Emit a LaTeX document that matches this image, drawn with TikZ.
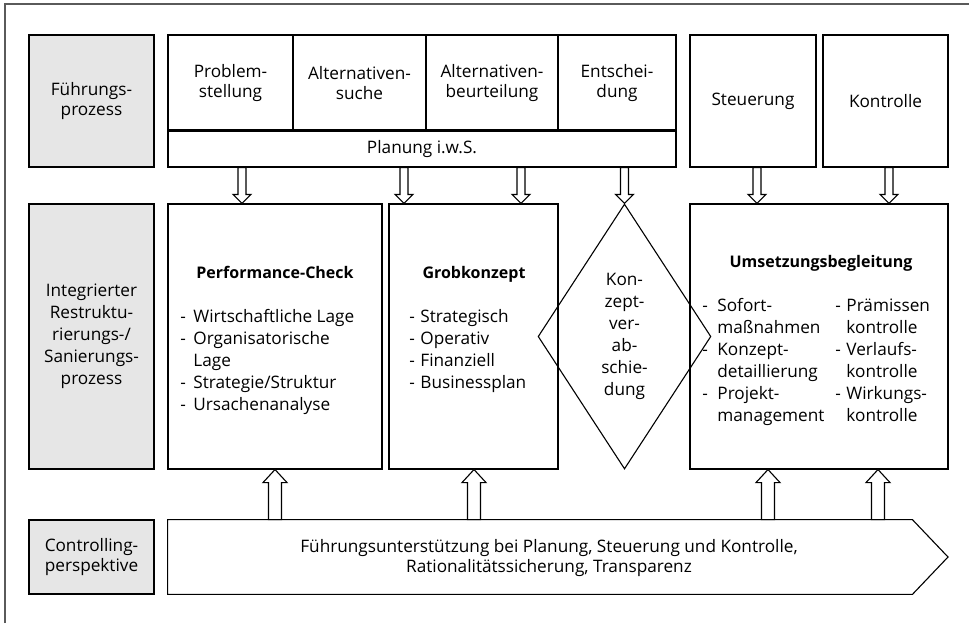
\documentclass[tikz,border=0pt]{standalone}
\usepackage{fontspec}
\setmainfont{Open Sans}
\usetikzlibrary{calc,shapes.geometric}
\definecolor{panelgray}{RGB}{230,230,230}
\definecolor{framegray}{RGB}{90,90,90}

\begin{document}
\begin{tikzpicture}[x=0.5pt, y=-0.5pt,
    every node/.style={font=\fontsize{8.6}{10}\selectfont},
    box/.style={draw, line width=0.55pt, inner sep=0pt, align=center},
    side/.style={box, fill=panelgray},
    mid/.style={font=\fontsize{8.6}{11}\selectfont},
    head/.style={anchor=base, inner sep=0pt, font=\fontsize{8}{11}\selectfont\bfseries},
    list/.style={anchor=base west, inner sep=0pt, font=\fontsize{8.6}{11}\selectfont},
    hollow/.style n args={3}{draw, fill=white, line width=0.55pt, to path={
        let \p1=(\tikztostart), \p2=(\tikztotarget) in
        (\x1-#1,\y1) -- (\x1+#1,\y1) -- (\x1+#1,\y2+#3) -- (\x1+#2,\y2+#3)
        -- (\x1,\y2) -- (\x1-#2,\y2+#3) -- (\x1-#1,\y2+#3) -- cycle}},
    downarr/.style={hollow={2pt}{4.5pt}{4.5pt}},
    uparr/.style={hollow={3.25pt}{6pt}{-6.5pt}},
  ]
  \useasboundingbox (0,0) rectangle (969,623);
  \draw[framegray, line width=0.6pt] (5,623) -- (5,4) -- (969,4);

  % linke Spalte
  \node[side, minimum width=62.5pt, minimum height=66pt]         (fp)   at (91.5,101)   {Führungs-\\prozess};
  \node[side, mid, minimum width=62.5pt, minimum height=132.5pt] (irs)  at (91.5,336.5) {Integrierter\\Restruktu-\\rierungs-/\\Sanierungs-\\prozess};
  \node[side, minimum width=62.5pt, minimum height=37pt]         (cp)   at (91.5,557)   {Controlling-\\perspektive};

  % Fuehrungsprozess
  \node[box, minimum width=62.5pt, minimum height=48pt]          (ps)   at (230.5,83)   {Problem-\\stellung};
  \node[box, minimum width=66.5pt, minimum height=48pt]          (as)   at (359.5,83)   {Alternativen-\\suche};
  \node[box, minimum width=66pt, minimum height=48pt]            (ab)   at (492,83)     {Alternativen-\\beurteilung};
  \node[box, minimum width=59pt, minimum height=48pt]            (ent)  at (617,83)     {Entschei-\\dung};
  \node[box, minimum width=254pt, minimum height=18pt]           (plan) at (422,149)    {Planung i.w.S.};
  \draw[line width=1.1pt] (plan.north west) -- (plan.north east);
  \node[box, minimum width=63pt, minimum height=66pt]            (steu) at (753,101)    {Steuerung};
  \node[box, minimum width=62.5pt, minimum height=66pt]          (kon)  at (885.5,101)  {Kontrolle};

  % Restrukturierungsprozess
  \node[box, minimum width=107pt, minimum height=132.5pt]        (perf) at (275,336.5)  {};
  \node[box, minimum width=84.5pt, minimum height=132.5pt]       (grob) at (473.5,336.5) {};
  \node[draw, diamond, mid, align=center, line width=0.55pt, inner sep=0pt,
        minimum width=66.5pt, minimum height=132.5pt]            (abs)  at (624.5,336.5)
        {Kon-\\zept-\\ver-\\ab-\\schie-\\dung};
  \node[box, minimum width=129pt, minimum height=132.5pt]        (ums)  at (819,336.5)  {};

  \node[head] (perfh) at (275,278) {Performance-Check};
  \node[list] (perfl) at (180,322) {\begin{tabular}[t]{@{}p{6.5pt}@{}l@{}}
      - & Wirtschaftliche Lage\\ - & Organisatorische\\ & Lage\\
      - & Strategie/Struktur\\ - & Ursachenanalyse\end{tabular}};
  \node[head] (grobh) at (474,278) {Grobkonzept};
  \node[list] (grobl) at (409,322) {\begin{tabular}[t]{@{}p{5.5pt}@{}l@{}}
      - & Strategisch\\ - & Operativ\\ - & Finanziell\\ - & Businessplan\end{tabular}};
  \node[head] (umsh) at (821,267) {Umsetzungsbegleitung};
  \node[list] (umsl) at (702,311) {\begin{tabular}[t]{@{}p{7.5pt}@{}l@{}}
      - & Sofort-\\ & maßnahmen\\ - & Konzept-\\ & detaillierung\\
      - & Projekt-\\ & management\end{tabular}};
  \node[list] (umsr) at (835,311) {\begin{tabular}[t]{@{}p{5.5pt}@{}l@{}}
      - & Prämissen\\ & kontrolle\\ - & Verlaufs-\\ & kontrolle\\
      - & Wirkungs-\\ & kontrolle\end{tabular}};

  % Controllingperspektive
  \node[inner sep=0pt, minimum width=372pt, minimum height=37pt] (ctrl) at (540,557) {};
  \coordinate (tip) at (948,557);
  \draw[line width=0.55pt] (ctrl.north west) -- (ctrl.north east) -- (tip)
    -- (ctrl.south east) -- (ctrl.south west) -- cycle;
  \node[align=center] (ctrlt) at (549,558)
    {Führungsunterstützung bei Planung, Steuerung und Kontrolle,\\Rationalitätssicherung, Transparenz};

  % Pfeile
  \draw[downarr] (242,0 |- plan.south) to (242,0 |- perf.north);
  \draw[downarr] (404,0 |- plan.south) to (404,0 |- grob.north);
  \draw[downarr] (521,0 |- plan.south) to (521,0 |- grob.north);
  \draw[downarr] (abs.north |- plan.south) to (abs.north);
  \draw[downarr] (757,0 |- steu.south) to (757,0 |- ums.north);
  \draw[downarr] (889,0 |- kon.south) to (889,0 |- ums.north);
  \draw[uparr] (275,0 |- ctrl.north) to (275,0 |- perf.south);
  \draw[uparr] (474,0 |- ctrl.north) to (474,0 |- grob.south);
  \draw[uparr] (768,0 |- ctrl.north) to (768,0 |- ums.south);
  \draw[uparr] (878,0 |- ctrl.north) to (878,0 |- ums.south);
\end{tikzpicture}
\end{document}
